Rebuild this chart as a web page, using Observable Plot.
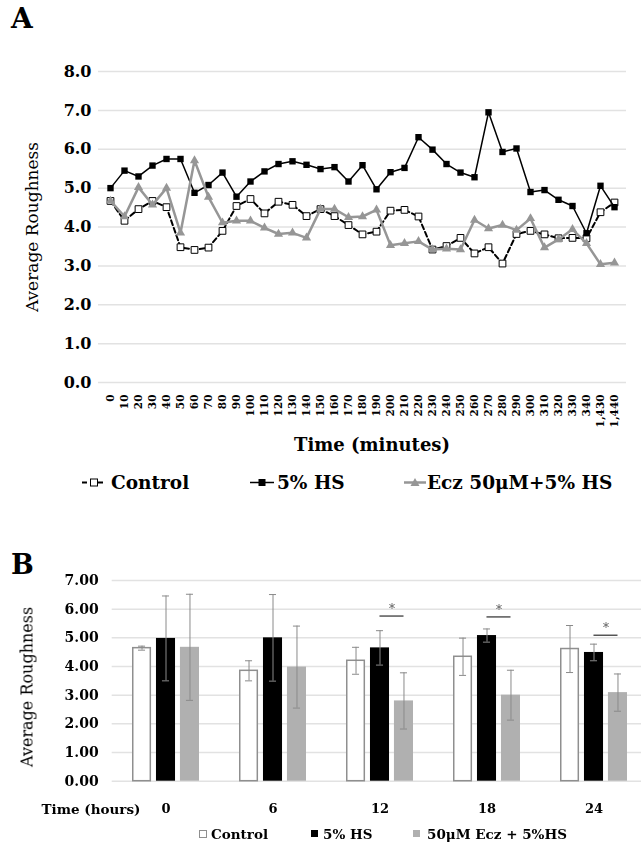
<!DOCTYPE html>
<html>
<head>
<meta charset="utf-8">
<script src="https://cdn.jsdelivr.net/npm/d3@7"></script>
<script src="https://cdn.jsdelivr.net/npm/@observablehq/plot@0.6"></script>
<style>
  html, body { margin: 0; padding: 0; background: #fff; }
  #root { position: relative; width: 641px; height: 845px; overflow: hidden; font-family: "DejaVu Serif", serif; color: #000; }
  .abs { position: absolute; white-space: nowrap; }
  .panel { font-weight: bold; font-size: 28px; }
  .ytitle { transform: translate(-50%, -50%) rotate(-90deg); font-weight: normal; }
  .leg { display: flex; align-items: center; font-weight: bold; }
  #chartB { will-change: transform; }
</style>
</head>
<body>
<div id="root">
  <div class="abs panel" style="left:11px; top:2px;">A</div>
  <div class="abs panel" style="left:11px; top:549px; font-size:27px;">B</div>
  <div id="chartA" class="abs" style="left:0; top:0;"></div>
  <div id="chartB" class="abs" style="left:0; top:540px;"></div>
  <div class="abs ytitle" style="left:32px; top:227px; font-size:17px;">Average Roughness</div>
  <div class="abs ytitle" style="left:27px; top:687px; font-size:16px;">Average Roughness</div>
  <div class="abs" style="left:372px; top:444px; transform:translate(-50%,-50%); font-weight:bold; font-size:18px;">Time (minutes)</div>
  <div class="abs" style="left:91px; top:809px; transform:translate(-50%,-50%); font-weight:bold; font-size:13.5px;">Time (hours)</div>

  <div class="abs leg" style="left:82px; top:482px; transform:translateY(-50%); font-size:18.5px;">
    <svg width="24" height="12" style="margin-right:5px"><line x1="0" y1="6" x2="24" y2="6" stroke="#000" stroke-width="2" stroke-dasharray="5,3"/><rect x="8.5" y="2.5" width="7" height="7" fill="#fff" stroke="#000" stroke-width="1"/></svg>Control</div>
  <div class="abs leg" style="left:250px; top:482px; transform:translateY(-50%); font-size:18.5px;">
    <svg width="24" height="12" style="margin-right:3px"><line x1="0" y1="6" x2="24" y2="6" stroke="#000" stroke-width="1.5"/><rect x="8.5" y="2.5" width="7" height="7" fill="#000"/></svg>5% HS</div>
  <div class="abs leg" style="left:404px; top:482px; transform:translateY(-50%); font-size:18.5px;">
    <svg width="22" height="12" style="margin-right:1px"><line x1="0" y1="6" x2="22" y2="6" stroke="#969696" stroke-width="2.5"/><path d="M11,1.5 L15.5,9.5 L6.5,9.5 Z" fill="#969696"/></svg>Ecz 50μM+5% HS</div>

  <div class="abs leg" style="left:199px; top:834px; transform:translateY(-50%); font-size:13.5px;">
    <svg width="9" height="9" style="margin-right:3px"><rect x="0.5" y="0.5" width="7" height="7" fill="#fff" stroke="#8f8f8f" stroke-width="1"/></svg>Control</div>
  <div class="abs leg" style="left:311px; top:834px; transform:translateY(-50%); font-size:13.5px;">
    <svg width="9" height="9" style="margin-right:3px"><rect x="0" y="0" width="7" height="7" fill="#000"/></svg>5% HS</div>
  <div class="abs leg" style="left:413px; top:834px; transform:translateY(-50%); font-size:13.5px;">
    <svg width="9" height="9" style="margin-right:5px"><rect x="0" y="0" width="7" height="7" fill="#b0b0b0"/></svg>50μM Ecz + 5%HS</div>
</div>
<script>
// ---------- Panel A data ----------
const timesA = ["0","10","20","30","40","50","60","70","80","90","100","110","120","130","140","150","160","170","180","190","200","210","220","230","240","250","260","270","280","290","300","310","320","330","340","1,430","1,440"];
const controlA = [4.67,4.16,4.46,4.67,4.51,3.48,3.41,3.47,3.90,4.54,4.72,4.35,4.65,4.57,4.28,4.46,4.28,4.05,3.81,3.88,4.42,4.44,4.27,3.42,3.51,3.72,3.32,3.48,3.06,3.82,3.90,3.81,3.71,3.72,3.71,4.38,4.63];
const hsA = [5.00,5.45,5.30,5.58,5.75,5.75,4.88,5.08,5.40,4.78,5.17,5.43,5.62,5.69,5.60,5.49,5.54,5.17,5.59,4.97,5.41,5.52,6.31,5.99,5.62,5.40,5.28,6.95,5.93,6.02,4.90,4.95,4.70,4.54,3.84,5.06,4.51];
const eczA = [4.67,4.27,5.02,4.57,5.00,3.85,5.71,4.77,4.11,4.16,4.16,3.98,3.82,3.85,3.72,4.46,4.46,4.25,4.27,4.44,3.53,3.58,3.63,3.42,3.44,3.42,4.18,3.96,4.05,3.92,4.22,3.47,3.68,3.94,3.58,3.04,3.08];
const yTicksA = [0,1,2,3,4,5,6,7,8];

// ---------- Panel B data ----------
const groupsB = ["0","6","12","18","24"];
const controlB = [4.64,3.85,4.20,4.34,4.61];
const controlErrB = [0.07,0.35,0.47,0.65,0.82];
const hsB = [4.98,5.00,4.65,5.08,4.49];
const hsErrB = [1.48,1.51,0.60,0.23,0.29];
const eczB = [4.67,3.98,2.80,3.00,3.09];
const eczErrB = [1.85,1.43,0.98,0.87,0.65];
const sigGroupsB = ["12","18","24"];
const sigYB = [5.76,5.73,5.09];
const yTicksB = [0,1,2,3,4,5,6,7];

// ---------- Panel A ----------
const rowsA = (vals) => timesA.map((t, i) => ({time: t, value: vals[i]}));
const dC = rowsA(controlA), dH = rowsA(hsA), dE = rowsA(eczA);
const gray = "#969696";

const chartA = Plot.plot({
  width: 641, height: 440,
  marginTop: 71, marginBottom: 58, marginLeft: 98, marginRight: 15,
  style: {fontFamily: "DejaVu Serif", background: "transparent", overflow: "visible"},
  x: {type: "point", domain: timesA, padding: 0.5},
  y: {domain: [0, 8]},
  marks: [
    Plot.gridY(yTicksA, {stroke: "#e2e2e2", strokeOpacity: 1, strokeWidth: 1.5}),
    Plot.axisY(yTicksA, {tickFormat: d => d.toFixed(1), tickSize: 0, tickPadding: 7, fontSize: 16, fontWeight: "bold", label: null}),
    Plot.axisX({tickRotate: -90, tickSize: 0, tickPadding: 12, fontSize: 10.5, fontWeight: "bold", label: null}),
    Plot.line(dC, {x: "time", y: "value", stroke: "#000", strokeWidth: 2, strokeDasharray: "5,3"}),
    Plot.dot(dC, {x: "time", y: "value", symbol: "square", r: 3.8, fill: "#fff", stroke: "#000", strokeWidth: 1}),
    Plot.line(dH, {x: "time", y: "value", stroke: "#000", strokeWidth: 1.5}),
    Plot.dot(dH, {x: "time", y: "value", symbol: "square", r: 3.6, fill: "#000"}),
    Plot.line(dE, {x: "time", y: "value", stroke: gray, strokeWidth: 2.5}),
    Plot.dot(dE, {x: "time", y: "value", symbol: "triangle", r: 3.4, fill: gray})
  ]
});
document.getElementById("chartA").appendChild(chartA);

// ---------- Panel B ----------
const xB = {type: "band", domain: groupsB, range: [110, 649], paddingInner: 0.376, paddingOuter: 0.2};
const bw = Plot.scale({x: xB}).bandwidth;
const barW = 19, off = (bw - barW) / 2;
const rowsB = (vals, errs) => groupsB.map((g, i) => ({group: g, value: vals[i], lo: vals[i] - errs[i], hi: vals[i] + errs[i]}));
const bC = rowsB(controlB, controlErrB), bH = rowsB(hsB, hsErrB), bE = rowsB(eczB, eczErrB);
const sig = sigGroupsB.map((g, i) => ({group: g, y: sigYB[i]}));
const errColor = "#8a8a8a";
const cap = 3.5;
function errMarks(data, dx) {
  const c = bw / 2 + dx;
  return [
    Plot.ruleX(data, {x: "group", y1: "lo", y2: "hi", dx, stroke: errColor, strokeWidth: 1}),
    Plot.tickY(data, {x: "group", y: "hi", insetLeft: c - cap, insetRight: bw - c - cap, stroke: errColor, strokeWidth: 1}),
    Plot.tickY(data, {x: "group", y: "lo", insetLeft: c - cap, insetRight: bw - c - cap, stroke: errColor, strokeWidth: 1})
  ];
}
const sideDx = bw / 2 - barW / 2;

const chartB = Plot.plot({
  width: 641, height: 285,
  marginTop: 40, marginBottom: 44.3, marginLeft: 111.7, marginRight: 0,
  style: {fontFamily: "DejaVu Serif", background: "transparent", overflow: "visible"},
  x: xB,
  y: {domain: [0, 7]},
  marks: [
    Plot.gridY(yTicksB, {stroke: "#e2e2e2", strokeOpacity: 1, strokeWidth: 1.5}),
    Plot.axisY(yTicksB, {tickFormat: d => d.toFixed(2), tickSize: 0, tickPadding: 13.5, fontSize: 14, fontWeight: "bold", label: null}),
    Plot.axisX({tickSize: 0, tickPadding: 23, fontSize: 13, fontWeight: "bold", label: null}),
    Plot.barY(bC, {x: "group", y: "value", fill: "#fff", stroke: "#8f8f8f", strokeWidth: 1.5, insetLeft: 0.75, insetRight: bw - barW + 0.75}),
    Plot.barY(bH, {x: "group", y: "value", fill: "#000", insetLeft: off, insetRight: off}),
    Plot.barY(bE, {x: "group", y: "value", fill: "#b0b0b0", insetLeft: bw - barW, insetRight: 0}),
    ...errMarks(bC, -sideDx),
    ...errMarks(bH, 0),
    ...errMarks(bE, sideDx),
    Plot.tickY(sig, {x: "group", y: "y", insetLeft: bw / 2, insetRight: barW / 2, stroke: "#555", strokeWidth: 1.5}),
    Plot.text(sig, {x: "group", y: "y", text: () => "*", dx: sideDx / 2, dy: -7, fontSize: 12, fill: "#555"})
  ]
});
document.getElementById("chartB").appendChild(chartB);
</script>
</body>
</html>
